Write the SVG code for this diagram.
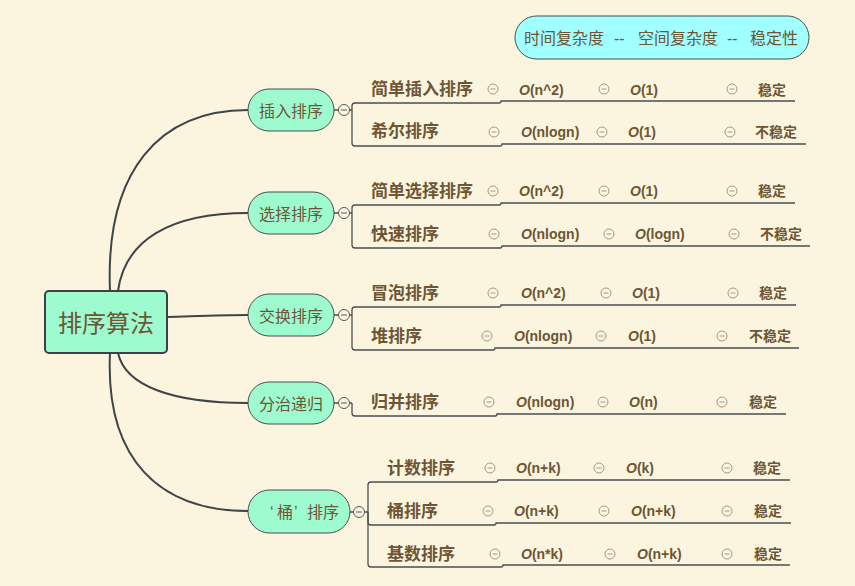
<svg xmlns="http://www.w3.org/2000/svg" width="855" height="586" viewBox="0 0 855 586">
  <style>
    text { font-family: "Liberation Sans", "Noto Sans CJK SC", sans-serif; fill: #6D5535; dominant-baseline: central; }
    .root-box { fill: #9DFBCF; stroke: #3B4147; stroke-width: 2; }
    .root-txt { font-size: 24px; }
    .branch-box { fill: #9DFBCF; stroke: #4A4D50; stroke-width: 1; }
    .branch-txt { font-size: 16px; text-anchor: middle; }
    .legend-box { fill: #A0FFFF; stroke: #4A4D50; stroke-width: 1; }
    .legend-txt { font-size: 16px; }
    .leaf { font-size: 17px; font-weight: bold; }
    .val { font-size: 14px; font-weight: bold; }
    .big-o { font-style: italic; }
    .edge { fill: none; stroke: #3F4448; stroke-width: 2; }
    .line { fill: none; stroke: #4A4D50; stroke-width: 1.3; }
    .tog { fill: #FBF5DF; stroke: #555A5E; stroke-width: 1; }
    .tog-m { stroke: #555A5E; stroke-width: 1; }
    .dot { fill: none; stroke: #A8978A; stroke-width: 1; }
    .dot-m { stroke: #A8978A; stroke-width: 1; }
  </style>
  <defs>
    <g id="fold">
      <circle class="tog" r="5.5"/>
      <line class="tog-m" x1="-3" y1="0" x2="3" y2="0"/>
    </g>
    <g id="sep">
      <circle class="dot" r="5"/>
      <line class="dot-m" x1="-2.5" y1="0" x2="2.5" y2="0"/>
    </g>
  </defs>

  <rect width="855" height="586" fill="#FBF5DF"/>

  <!-- connectors -->
  <g id="connectors">
    <path class="edge" d="M110,291 C105,170 160,110 248,110"/>
    <path class="edge" d="M118,291 C125,240 170,213 248,213"/>
    <path class="edge" d="M167,317 C200,316 220,315 248,315"/>
    <path class="edge" d="M118,353 C125,385 170,403 248,403"/>
    <path class="edge" d="M110,353 C105,460 160,511 248,511"/>

    <!-- branch stubs -->
    <path class="line" d="M334,110 H339 M349,110 H352"/>
    <path class="line" d="M334,213 H339 M349,213 H352"/>
    <path class="line" d="M334,315 H339 M349,315 H352"/>
    <path class="line" d="M334,403 H339 M349,403 H352"/>
    <path class="line" d="M350,512 H354 M364,512 H368"/>

    <!-- brackets and row underlines -->
    <path class="line" d="M352,110 V106 Q352,103 355,103 H499 Q501,103 501,101 H795"/>
    <path class="line" d="M352,110 V143 Q352,146 355,146 H500 Q502,146 502,144 H806"/>
    <path class="line" d="M352,213 V208 Q352,205 355,205 H499 Q501,205 501,203 H795"/>
    <path class="line" d="M352,213 V245 Q352,248 355,248 H500 Q502,248 502,246 H810"/>
    <path class="line" d="M352,315 V310 Q352,307 355,307 H499 Q501,307 501,305 H796"/>
    <path class="line" d="M352,315 V347 Q352,350 355,350 H493 Q495,350 495,348 H799"/>
    <path class="line" d="M352,403 V413 Q352,416 355,416 H495 Q497,416 497,414 H786"/>
    <path class="line" d="M368,512 V485 Q368,482 371,482 H496 Q498,482 498,480 H790"/>
    <path class="line" d="M368,512 V522 Q368,525 371,525 H494 Q496,525 496,523 H791"/>
    <path class="line" d="M368,512 V564 Q368,567 371,567 H501 Q503,567 503,565 H790"/>
  </g>

  <!-- legend -->
  <g id="legend">
    <rect class="legend-box" x="515" y="16" width="294" height="43" rx="21.5"/>
    <text class="legend-txt" y="38"><tspan x="524">时间复杂度</tspan><tspan x="614">--</tspan><tspan x="638">空间复杂度</tspan><tspan x="727">--</tspan><tspan x="750">稳定性</tspan></text>
  </g>

  <!-- root -->
  <g id="root">
    <rect class="root-box" x="45" y="291" width="122" height="62" rx="4"/>
    <text class="root-txt" x="106" y="323" text-anchor="middle">排序算法</text>
  </g>

  <!-- branches -->
  <g id="insert">
    <rect class="branch-box" x="248" y="89" width="86" height="42" rx="21"/>
    <text class="branch-txt" x="291" y="111">插入排序</text>
    <use href="#fold" x="344" y="110"/>
  </g>
  <g id="select">
    <rect class="branch-box" x="248" y="192" width="86" height="42" rx="21"/>
    <text class="branch-txt" x="291" y="214">选择排序</text>
    <use href="#fold" x="344" y="213"/>
  </g>
  <g id="exchange">
    <rect class="branch-box" x="248" y="294" width="86" height="42" rx="21"/>
    <text class="branch-txt" x="291" y="316">交换排序</text>
    <use href="#fold" x="344" y="315"/>
  </g>
  <g id="divide">
    <rect class="branch-box" x="248" y="382" width="86" height="42" rx="21"/>
    <text class="branch-txt" x="291" y="404">分治递归</text>
    <use href="#fold" x="344" y="403"/>
  </g>
  <g id="bucket">
    <rect class="branch-box" x="248" y="490" width="102" height="43" rx="21.5"/>
    <text style="font-size:16px" y="512"><tspan x="270">‘</tspan><tspan x="277">桶</tspan><tspan x="294">’</tspan><tspan x="307">排序</tspan></text>
    <use href="#fold" x="359" y="512"/>
  </g>

  <!-- rows: name ⊖ time ⊖ space ⊖ stability -->
  <g id="row-straight-insertion">
    <text class="leaf" x="371" y="89">简单插入排序</text>
    <use href="#sep" x="493" y="89"/>
    <text class="val" x="519" y="90"><tspan class="big-o">O</tspan>(n^2)</text>
    <use href="#sep" x="604" y="89"/>
    <text class="val" x="630" y="90"><tspan class="big-o">O</tspan>(1)</text>
    <use href="#sep" x="732" y="89"/>
    <text class="val" x="758" y="90">稳定</text>
  </g>
  <g id="row-shell">
    <text class="leaf" x="371" y="131">希尔排序</text>
    <use href="#sep" x="494" y="132"/>
    <text class="val" x="521" y="132"><tspan class="big-o">O</tspan>(nlogn)</text>
    <use href="#sep" x="602" y="132"/>
    <text class="val" x="628" y="132"><tspan class="big-o">O</tspan>(1)</text>
    <use href="#sep" x="730" y="132"/>
    <text class="val" x="755" y="132">不稳定</text>
  </g>
  <g id="row-straight-selection">
    <text class="leaf" x="371" y="191">简单选择排序</text>
    <use href="#sep" x="493" y="191"/>
    <text class="val" x="519" y="191"><tspan class="big-o">O</tspan>(n^2)</text>
    <use href="#sep" x="604" y="191"/>
    <text class="val" x="630" y="191"><tspan class="big-o">O</tspan>(1)</text>
    <use href="#sep" x="732" y="191"/>
    <text class="val" x="758" y="191">稳定</text>
  </g>
  <g id="row-quick">
    <text class="leaf" x="371" y="234">快速排序</text>
    <use href="#sep" x="494" y="234"/>
    <text class="val" x="521" y="234"><tspan class="big-o">O</tspan>(nlogn)</text>
    <use href="#sep" x="609" y="234"/>
    <text class="val" x="635" y="234"><tspan class="big-o">O</tspan>(logn)</text>
    <use href="#sep" x="734" y="234"/>
    <text class="val" x="760" y="234">不稳定</text>
  </g>
  <g id="row-bubble">
    <text class="leaf" x="371" y="293">冒泡排序</text>
    <use href="#sep" x="493" y="293"/>
    <text class="val" x="521" y="293"><tspan class="big-o">O</tspan>(n^2)</text>
    <use href="#sep" x="606" y="293"/>
    <text class="val" x="632" y="293"><tspan class="big-o">O</tspan>(1)</text>
    <use href="#sep" x="733" y="293"/>
    <text class="val" x="759" y="293">稳定</text>
  </g>
  <g id="row-heap">
    <text class="leaf" x="371" y="336">堆排序</text>
    <use href="#sep" x="487" y="336"/>
    <text class="val" x="514" y="336"><tspan class="big-o">O</tspan>(nlogn)</text>
    <use href="#sep" x="601" y="336"/>
    <text class="val" x="628" y="336"><tspan class="big-o">O</tspan>(1)</text>
    <use href="#sep" x="722" y="336"/>
    <text class="val" x="749" y="336">不稳定</text>
  </g>
  <g id="row-merge">
    <text class="leaf" x="371" y="402">归并排序</text>
    <use href="#sep" x="489" y="402"/>
    <text class="val" x="516" y="402"><tspan class="big-o">O</tspan>(nlogn)</text>
    <use href="#sep" x="603" y="402"/>
    <text class="val" x="629" y="402"><tspan class="big-o">O</tspan>(n)</text>
    <use href="#sep" x="722" y="402"/>
    <text class="val" x="749" y="402">稳定</text>
  </g>
  <g id="row-counting">
    <text class="leaf" x="387" y="468">计数排序</text>
    <use href="#sep" x="490" y="468"/>
    <text class="val" x="516" y="468"><tspan class="big-o">O</tspan>(n+k)</text>
    <use href="#sep" x="599" y="468"/>
    <text class="val" x="626" y="468"><tspan class="big-o">O</tspan>(k)</text>
    <use href="#sep" x="727" y="468"/>
    <text class="val" x="753" y="468">稳定</text>
  </g>
  <g id="row-bucket">
    <text class="leaf" x="387" y="511">桶排序</text>
    <use href="#sep" x="488" y="511"/>
    <text class="val" x="514" y="511"><tspan class="big-o">O</tspan>(n+k)</text>
    <use href="#sep" x="604" y="511"/>
    <text class="val" x="631" y="511"><tspan class="big-o">O</tspan>(n+k)</text>
    <use href="#sep" x="727" y="511"/>
    <text class="val" x="754" y="511">稳定</text>
  </g>
  <g id="row-radix">
    <text class="leaf" x="387" y="554">基数排序</text>
    <use href="#sep" x="495" y="554"/>
    <text class="val" x="521" y="554"><tspan class="big-o">O</tspan>(n*k)</text>
    <use href="#sep" x="610" y="554"/>
    <text class="val" x="637" y="554"><tspan class="big-o">O</tspan>(n+k)</text>
    <use href="#sep" x="727" y="554"/>
    <text class="val" x="754" y="554">稳定</text>
  </g>
</svg>
